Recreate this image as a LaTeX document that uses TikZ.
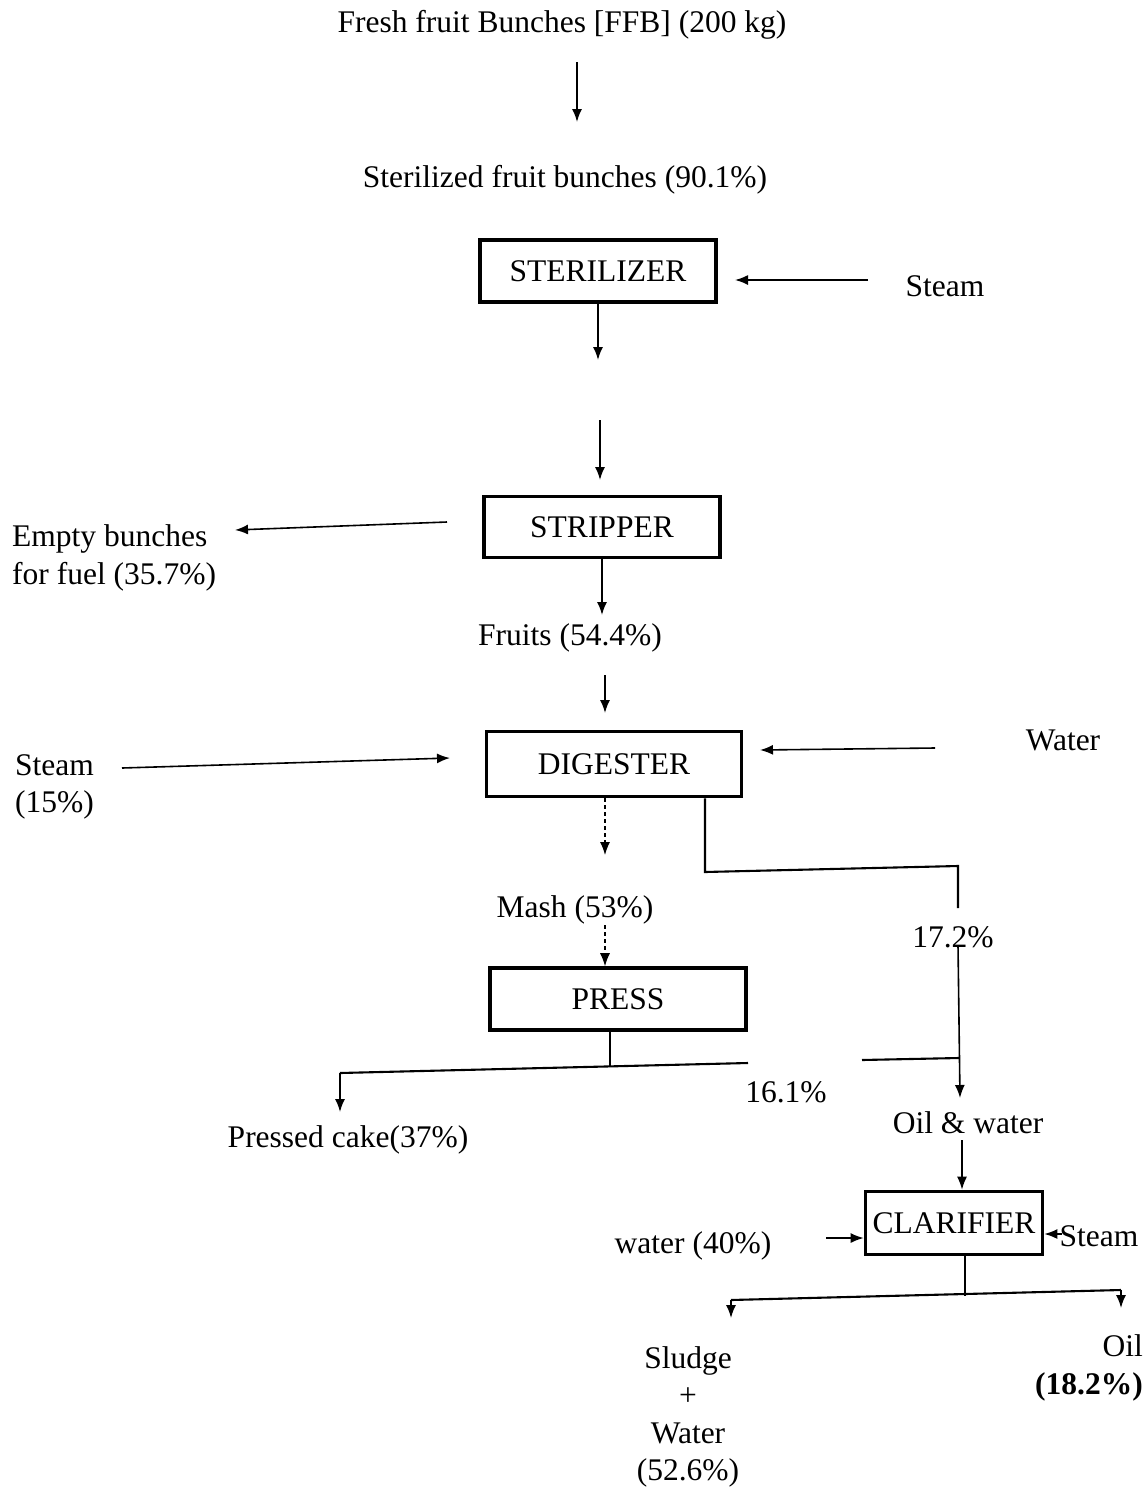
\documentclass[tikz,border=0pt]{standalone}
\usepackage{fontspec}
\setmainfont{Liberation Serif}
\usetikzlibrary{arrows.meta}
\begin{document}
\begin{tikzpicture}[x=1pt,y=-1pt,
  txt/.style={font=\fontsize{31.5}{37.5}\selectfont, inner sep=0pt},
  unit/.style={draw, line width=3.6pt, font=\fontsize{31.5}{37}\selectfont, inner sep=0pt},
  arr/.style={line width=1.6pt, -{Latex[length=13pt,width=10pt]}},
  darr/.style={line width=1.1pt, dash pattern=on 4pt off 3pt, -{Latex[length=13pt,width=10pt]}},
  ln/.style={line width=2.1pt},
]
\useasboundingbox (0,0) rectangle (1147,1492);

% process units
\node[unit, minimum width=236pt, minimum height=62pt] (ster) at (598,271) {STERILIZER};
\node[unit, minimum width=236pt, minimum height=61pt] (strip) at (602,527) {STRIPPER};
\node[unit, minimum width=255pt, minimum height=65pt] (dig) at (614,764) {DIGESTER};
\node[unit, minimum width=256pt, minimum height=62pt] (press) at (618,999) {PRESS};
\node[unit, minimum width=177pt, minimum height=63pt] (clar) at (954,1223) {CLARIFIER};

% texts
\node[txt] (ffb) at (562,25) {Fresh fruit Bunches [FFB] (200 kg)};
\node[txt] (sfb) at (565,180) {Sterilized fruit bunches (90.1\%)};
\node[txt] (steamA) at (945,286) {Steam};
\node[txt, anchor=west, align=left] (empty) at (12,558) {Empty bunches\\for fuel (35.7\%)};
\node[txt] (fruits) at (570,638) {Fruits (54.4\%)};
\node[txt, anchor=west, align=left] (steamB) at (15,787) {Steam\\(15\%)};
\node[txt] (waterA) at (1063,740) {Water};
\node[txt] (mash) at (575,910) {Mash (53\%)};
\node[txt] (p172) at (953,937) {17.2\%};
\node[txt] (cake) at (348,1140) {Pressed cake(37\%)};
\node[txt] (p161) at (786,1092) {16.1\%};
\node[txt] (oilw) at (968,1123) {Oil \& water};
\node[txt] (water40) at (693,1246) {water (40\%)};
\node[txt] (steamC) at (1099,1236) {Steam};
\node[txt, align=center] (sludge) at (688,1417) {Sludge\\+\\Water\\(52.6\%)};
\node[txt, anchor=east, align=right] (oil) at (1143,1368) {Oil\\\textbf{(18.2\%)}};

% free-end coordinates
\coordinate (a1) at (577,62);   \coordinate (a2) at (577,122);
\coordinate (b1) at (868,280);  \coordinate (b2) at (735,280);
\coordinate (c2) at (598,360);
\coordinate (d1) at (600,420);  \coordinate (d2) at (600,480);
\coordinate (e1) at (447,522);  \coordinate (e2) at (235,530);
\coordinate (f1) at (605,675);  \coordinate (f2) at (605,713);
\coordinate (g1) at (122,768);  \coordinate (g2) at (450,758);
\coordinate (h1) at (935,748);  \coordinate (h2) at (760,750);
\coordinate (i2) at (605,855);
\coordinate (j1) at (605,925);
\coordinate (k1) at (705,872);  \coordinate (k2) at (958,866);
\coordinate (k3) at (958,908);  \coordinate (k4) at (958,945);
\coordinate (k5) at (960,1098);
\coordinate (m1) at (610,1066); \coordinate (m2) at (340,1073);
\coordinate (m3) at (748,1063); \coordinate (m4) at (340,1112);
\coordinate (n1) at (862,1060); \coordinate (n2) at (959,1058);
\coordinate (o1) at (962,1140);
\coordinate (q1) at (826,1238);
\coordinate (r1) at (1062,1234);
\coordinate (s1) at (965,1296); \coordinate (s2) at (731,1300);
\coordinate (s3) at (1121,1290); \coordinate (s4) at (731,1318);
\coordinate (s5) at (1121,1308);

% connectors
\draw[arr] (a1) -- (a2);
\draw[arr] (b1) -- (b2);
\draw[arr] (ster.south) -- (c2);
\draw[arr] (d1) -- (d2);
\draw[arr] (e1) -- (e2);
\draw[arr] (strip.south) -- (strip.south |- 0,615);
\draw[arr] (f1) -- (f2);
\draw[arr] (g1) -- (g2);
\draw[arr] (h1) -- (h2);
\draw[darr] (dig.south -| i2) -- (i2);
\draw[darr] (j1) -- (j1 |- press.north);
\draw[ln] (dig.south -| k1) -- (k1) -- (k2) -- (k3);
\draw[arr] (k4) -- (k5);
\draw[ln] (press.south -| m1) -- (m1);
\draw[ln] (m3) -- (m2);
\draw[arr] (m2) -- (m4);
\draw[ln] (n1) -- (n2);
\draw[arr] (o1) -- (o1 |- clar.north);
\draw[arr] (q1) -- (clar.west |- q1);
\draw[arr] (r1) -- (clar.east |- r1);
\draw[ln] (s1 |- clar.south) -- (s1);
\draw[ln] (s2) -- (s3);
\draw[arr] (s2) -- (s4);
\draw[arr] (s3) -- (s5);
\end{tikzpicture}
\end{document}
